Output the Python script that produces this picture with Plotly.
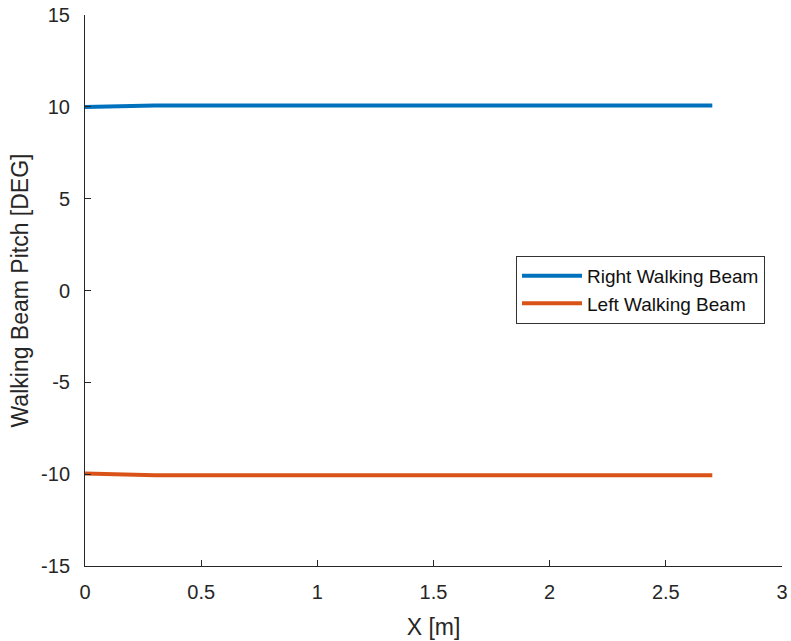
import plotly.graph_objects as go

# Walking beam pitch along the travel distance
x_m = [0.0, 0.3, 2.7]
right_pitch = [9.99, 10.07, 10.07]
left_pitch = [-9.97, -10.06, -10.06]

x_ticks = [0, 0.5, 1, 1.5, 2, 2.5, 3]
x_tick_text = ["0", "0.5", "1", "1.5", "2", "2.5", "3"]
y_ticks = [-15, -10, -5, 0, 5, 10, 15]
y_tick_text = ["-15", "-10", "-5", "0", "5", "10", "15"]

AX = "#262626"
FONT = "Liberation Sans, Arial, sans-serif"

fig = go.Figure()
fig.add_trace(go.Scatter(x=x_m, y=right_pitch, mode="lines", name="Right Walking Beam",
                         line=dict(color="#0072BD", width=4)))
fig.add_trace(go.Scatter(x=x_m, y=left_pitch, mode="lines", name="Left Walking Beam",
                         line=dict(color="#D95319", width=4)))

fig.update_layout(
    width=791, height=641,
    margin=dict(l=85, r=9, t=15, b=75, autoexpand=False),
    paper_bgcolor="white", plot_bgcolor="white",
    font=dict(family=FONT, color=AX, size=20),
    showlegend=True,
    legend=dict(
        x=0.9756, y=0.563, xanchor="right", yanchor="top",
        bordercolor="#333333", borderwidth=1, bgcolor="white",
        font=dict(size=19, color="#111111", family=FONT),
        itemwidth=60, tracegroupgap=0,
    ),
    xaxis=dict(
        range=[0, 3], tickvals=x_ticks, ticktext=x_tick_text,
        showgrid=False, zeroline=False, showline=True, linecolor=AX, linewidth=1,
        ticks="inside", ticklen=6, tickcolor=AX, tickwidth=1,
        tickfont=dict(size=20, color=AX), ticklabelstandoff=8,
        title=dict(text="X [m]", font=dict(size=23, color=AX), standoff=16),
        mirror=False, automargin=False,
    ),
    yaxis=dict(
        range=[-15, 15], tickvals=y_ticks, ticktext=y_tick_text,
        showgrid=False, zeroline=False, showline=True, linecolor=AX, linewidth=1,
        ticks="inside", ticklen=6, tickcolor=AX, tickwidth=1,
        tickfont=dict(size=20, color=AX), ticklabelstandoff=10,
        title=dict(text="Walking Beam Pitch [DEG]", font=dict(size=23, color=AX), standoff=6),
        mirror=False, automargin=False,
    ),
)

fig.write_html("out.html")
